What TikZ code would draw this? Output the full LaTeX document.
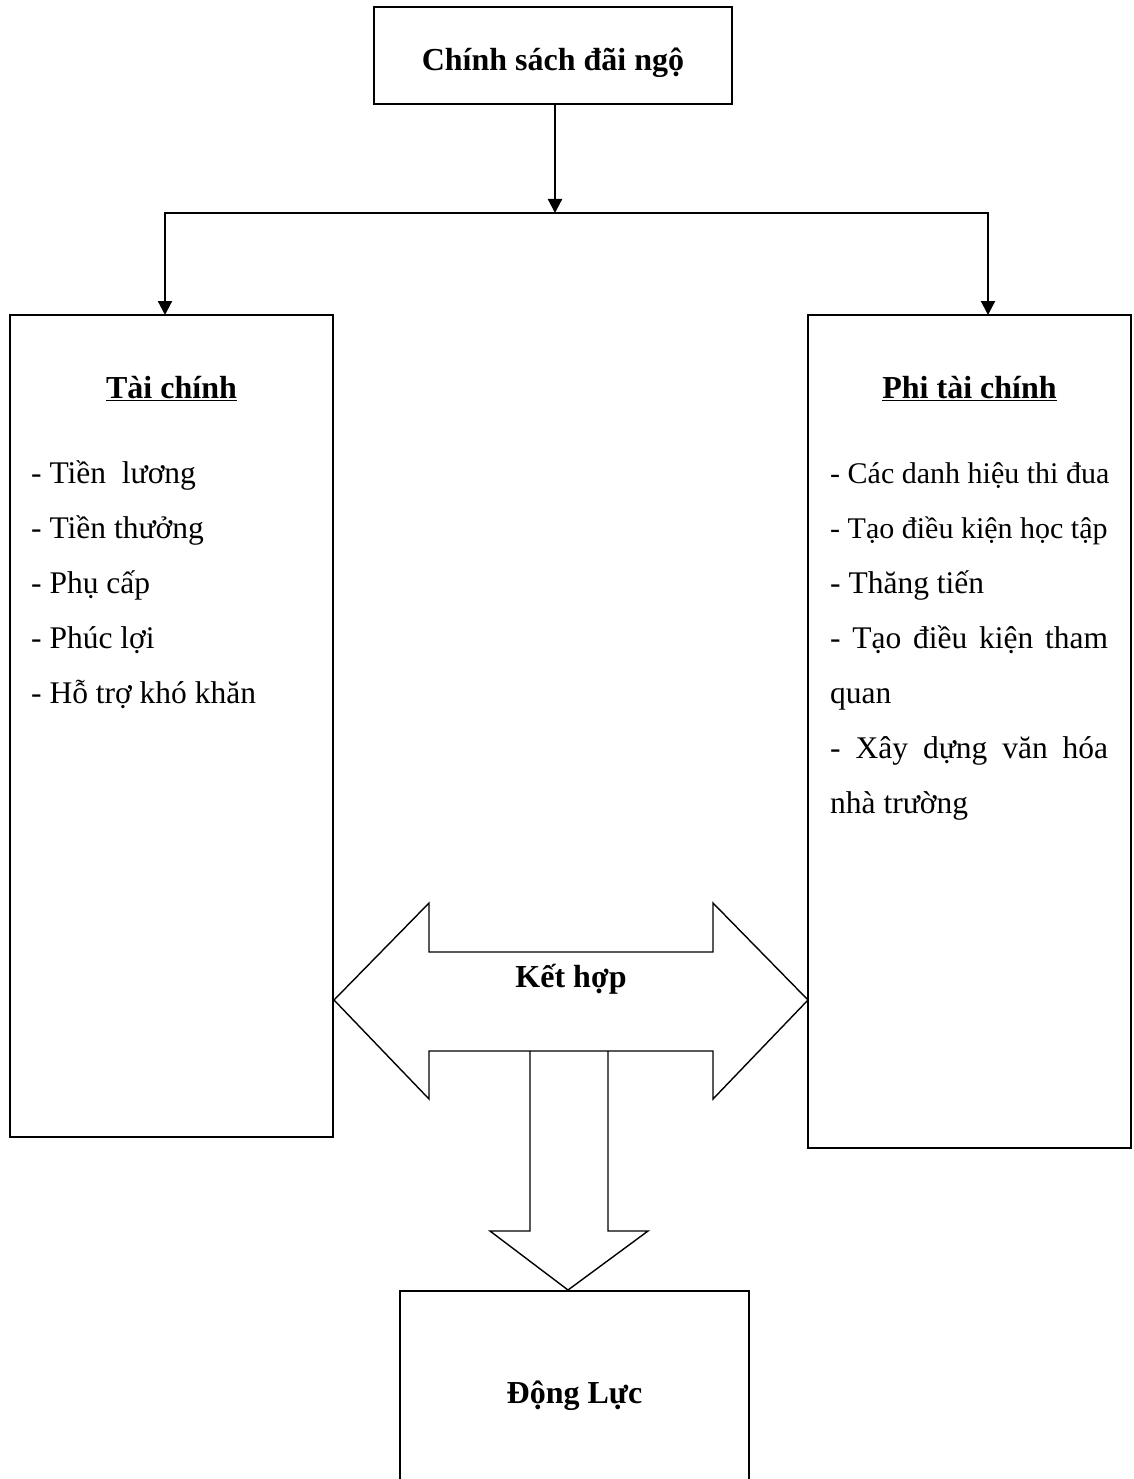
\documentclass[tikz,border=0pt]{standalone}
\usepackage{fontspec}
\setmainfont{Liberation Serif}
\usetikzlibrary{arrows.meta,calc}
\tikzset{
  frame/.style={draw, line width=2pt, inner sep=0pt, outer sep=0pt},
  body/.style={font=\fontsize{31.5}{36}\selectfont, inner sep=0pt, anchor=base west},
  bodyfit/.style={body, font=\fontsize{30}{36}\selectfont},
  head/.style={font=\fontsize{32}{38}\selectfont\bfseries, inner sep=0pt, anchor=base},
  conn/.style={line width=2.2pt, -{Triangle[width=14pt,length=14pt]}},
  block/.style={draw, line width=1.4pt, line join=miter},
}
\begin{document}
\begin{tikzpicture}[x=1pt,y=-1pt]
\useasboundingbox (0,0) rectangle (1133,1479);
\clip (0,0) rectangle (1133,1479);

% boxes
\node[frame, minimum width=358pt, minimum height=97pt] (top) at (553,55.5) {};
\node[frame, minimum width=323pt, minimum height=822pt] (left) at (171.5,726) {};
\node[frame, minimum width=323pt, minimum height=833pt] (right) at (969.5,731.5) {};
\node[frame, minimum width=349pt, minimum height=230pt] (bottom) at (574.5,1406) {};

% titles
\node[head] (toptxt) at (553,71) {Chính sách đãi ngộ};
\node[head] (lhead) at (171.5,398) {\underline{Tài chính}};
\node[head] (rhead) at (969.5,398) {\underline{Phi tài chính}};
\node[head] (kethop) at (571,987) {Kết hợp};
\node[head] (dongluc) at (574.5,1403) {Động Lực};

% left list
\node[body] (l1) at (31,483) {- Tiền\ \ lương};
\node[body] (l2) at (31,538) {- Tiền thưởng};
\node[body] (l3) at (31,593) {- Phụ cấp};
\node[body] (l4) at (31,648) {- Phúc lợi};
\node[body] (l5) at (31,703) {- Hỗ trợ khó khăn};

% right list
\node[bodyfit] (r1) at (830,483) {- Các danh hiệu thi đua};
\node[bodyfit] (r2) at (830,538) {- Tạo điều kiện học tập};
\node[body] (r3) at (830,593) {- Thăng tiến};
\node[body] (r4) at (830,648) {\makebox[278pt][s]{- Tạo điều kiện tham}};
\node[body] (r5) at (830,703) {quan};
\node[body] (r6) at (830,758) {\makebox[278pt][s]{- Xây dựng văn hóa}};
\node[body] (r7) at (830,813) {nhà trường};

% connectors
\coordinate (split) at (555,213);
\coordinate (lsplit) at (165,213);
\coordinate (rsplit) at (988,213);
\draw[conn] (top.south -| split) -- (split);
\draw[conn] (split) -- (lsplit) -- (left.north -| lsplit);
\draw[conn] (split) -- (rsplit) -- (right.north -| rsplit);

% double block arrow
\draw[block] (334,1000) -- (429,903) -- (429,952) -- (713,952) -- (713,903)
  -- (808,1000) -- (713,1099) -- (713,1051) -- (429,1051) -- (429,1099) -- cycle;
% down block arrow
\draw[block] (530,1051) -- (530,1231) -- (490,1231) -- (568,1290)
  -- (648,1231) -- (608,1231) -- (608,1051);
\end{tikzpicture}
\end{document}
